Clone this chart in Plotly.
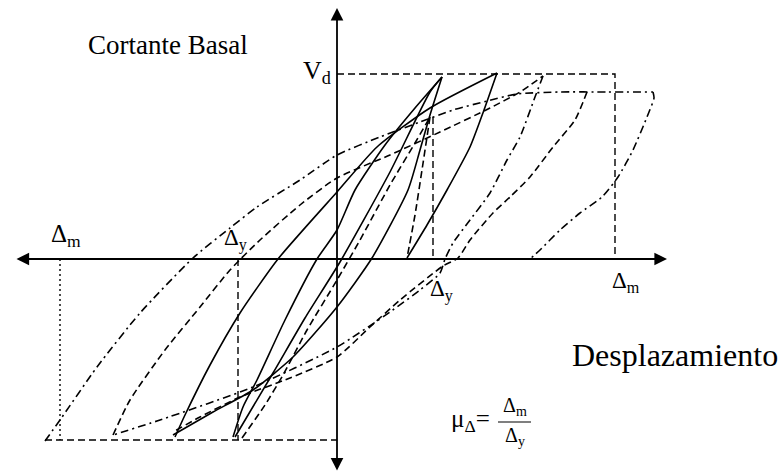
import plotly.graph_objects as go

# Hysteresis loops of base shear vs. displacement (arbitrary drawing units,
# origin at the axes' intersection).

# Reference levels
delta_y = [-99, 96]        # yield displacement (left, right)
delta_m = [-277, 278]      # maximum displacement (left, right)
v_d = [185, -181]          # design shear (top, bottom)

# Solid branches
s1_up_x = [-162, -152, -127, -97, -59, 0, 40, 93, 160]
s1_up_y = [-178, -156, -106, -54, 0, 67, 112, 151, 186]
s1_dn_x = [160, 147, 133, 110, 90, 70]
s1_dn_y = [186, 149, 112, 69, 34, 1]
s2_up_x = [-104, -94, -80, -52, -20, 0, 18, 48, 78, 105]
s2_up_y = [-178, -148, -121, -61, 0, 29, 69, 114, 151, 182]
s2_dn_x = [105, 93, 83, 71, 35, 0, -44, -84, -124, -164]
s2_dn_y = [182, 144, 109, 69, 1, -48, -98, -131, -153, -176]
s3_x = [-102, -64, -32, 3, 53, 93, 105]
s3_y = [-178, -114, -59, -3, 87, 167, 182]

# Dashed branches
d1_up_x = [-95, -72, -54, -30, 0, 23, 53, 78, 93]
d1_up_y = [-179, -146, -116, -71, -21, 19, 74, 116, 142]
d1_dn_x = [93, 85, 78, 70]
d1_dn_y = [142, 89, 44, 1]
d2_dn_x = [250, 238, 216, 193, 173, 156, 133, 121, 106, 63, 33, 0, -47, -97, -137, -164]
d2_dn_y = [167, 139, 112, 82, 62, 46, 19, 1, -7, -41, -68, -98, -119, -138, -158, -173]
d3_up_x = [-224, -207, -172, -137, -107, -77, -37, 0, 53, 103, 153, 183, 206]
d3_up_y = [-176, -141, -91, -48, -11, 19, 54, 81, 104, 127, 151, 167, 183]

# Dash-dot branches
a1_up_x = [-292, -277, -240, -197, -144, -107, -80, -37, 0, 43, 83, 116, 150, 180, 223, 270, 316]
a1_up_y = [-182, -161, -108, -54, 1, 31, 52, 79, 104, 122, 137, 149, 158, 165, 167, 167, 167]
a2_dn_x = [316, 317, 310, 296, 281, 265, 243, 223, 203, 193]
a2_dn_y = [167, 161, 142, 109, 82, 62, 46, 29, 9, 0]
a3_dn_x = [206, 198, 183, 170, 153, 133, 116, 108, 103, 83, 53, 0, -84, -177, -224]
a3_dn_y = [183, 162, 122, 99, 66, 39, 16, 0, -14, -31, -53, -88, -128, -161, -176]

# Axis extents
x_axis = [-322, 330]
y_axis = [-213, 251]

DASH = "7px,4px"
DASHDOT = "8px,4px,2px,4px"
INK = "black"

fig = go.Figure()


def add_line(x, y, dash="solid", width=1.6, shape="spline"):
    fig.add_trace(go.Scatter(
        x=x, y=y, mode="lines",
        line=dict(color=INK, width=width, dash=dash, shape=shape, smoothing=0.6),
        hoverinfo="skip", showlegend=False))


# Reference box lines
add_line([0, delta_m[1], delta_m[1]], [v_d[0], v_d[0], 0], DASH, 1.4, "linear")
add_line([delta_m[0] - 15, 0], [v_d[1], v_d[1]], DASH, 1.6, "linear")
add_line([delta_m[0], delta_m[0]], [0, v_d[1]], "2px,3px", 1.4, "linear")
add_line([delta_y[0], delta_y[0]], [0, v_d[1]], DASH, 1.4, "linear")
add_line([delta_y[1], delta_y[1]], [d1_up_y[-1], 0], DASH, 1.4, "linear")

# Loops
add_line(s1_up_x, s1_up_y)
add_line(s1_dn_x, s1_dn_y)
add_line(s2_up_x, s2_up_y)
add_line(s2_dn_x, s2_dn_y)
add_line(s3_x, s3_y)
add_line(d1_up_x, d1_up_y, DASH)
add_line(d1_dn_x, d1_dn_y, DASH)
add_line(d2_dn_x, d2_dn_y, DASH)
add_line(d3_up_x, d3_up_y, DASH)
add_line(a1_up_x, a1_up_y, DASHDOT)
add_line(a2_dn_x, a2_dn_y, DASHDOT)
add_line(a3_dn_x, a3_dn_y, DASHDOT)

# Axes with arrowheads at both ends
fig.add_annotation(x=x_axis[1], y=0, ax=x_axis[0], ay=0, xref="x", yref="y",
                   axref="x", ayref="y", text="", showarrow=True,
                   arrowhead=2, arrowside="end+start", arrowsize=1.4,
                   arrowwidth=1.8, arrowcolor=INK)
fig.add_annotation(x=0, y=y_axis[1], ax=0, ay=y_axis[0], xref="x", yref="y",
                   axref="x", ayref="y", text="", showarrow=True,
                   arrowhead=2, arrowside="end+start", arrowsize=1.4,
                   arrowwidth=1.8, arrowcolor=INK)

SERIF = "Times New Roman, Liberation Serif, DejaVu Serif, serif"


def label(x, y, text, size, xanchor="center"):
    fig.add_annotation(x=x, y=y, text=text, showarrow=False, xanchor=xanchor,
                       yanchor="middle", font=dict(family=SERIF, size=size, color=INK))


label(-169, 214, "Cortante Basal", 27)
label(-20, 187, "V<sub>d</sub>", 26)
label(-271, 24, "Δ<sub>m</sub>", 25)
label(-102, 20, "Δ<sub>y</sub>", 23)
label(104, -31, "Δ<sub>y</sub>", 23)
label(289, -23, "Δ<sub>m</sub>", 23)
label(338, -96, "Desplazamiento", 32)

# Ductility definition
label(133, -161, "μ<sub>Δ</sub>=", 25)
label(178, -147, "Δ<sub>m</sub>", 20)
label(178, -177, "Δ<sub>y</sub>", 20)
add_line([161, 194], [-163, -163], "solid", 1.2, "linear")

fig.update_layout(
    width=780, height=474,
    margin=dict(l=0, r=0, t=0, b=0),
    paper_bgcolor="white", plot_bgcolor="white",
    font=dict(family=SERIF),
    xaxis=dict(range=[-337, 443], visible=False, fixedrange=True),
    yaxis=dict(range=[-215, 259], visible=False, fixedrange=True),
)

fig.write_html("out.html")
